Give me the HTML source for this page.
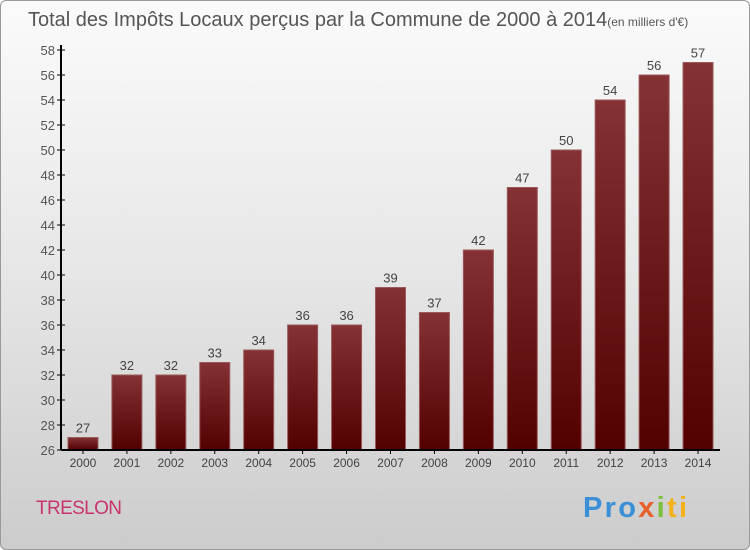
<!DOCTYPE html>
<html><head><meta charset="utf-8"><style>
body{margin:0;width:750px;height:550px;overflow:hidden;font-family:"Liberation Sans",sans-serif}
#bg{position:absolute;left:0;top:0;width:748px;height:548px;border:1px solid #999;border-radius:6px;background:linear-gradient(#fbfbfb,#e6e6e6 50%,#cccccc)}
</style></head><body>
<div id="bg"></div>
<svg id="c" width="750" height="550" style="position:absolute;left:0;top:0">
<defs><linearGradient id="g" x1="0" y1="0" x2="0" y2="1"><stop offset="0" stop-color="#843235"/><stop offset="1" stop-color="#520000"/></linearGradient></defs>
<text x="28" y="26" font-size="20" fill="#555">Total des Impôts Locaux perçus par la Commune de 2000 à 2014<tspan font-size="12">(en milliers d'€)</tspan></text>
<text x="36" y="514" font-size="19" fill="#c8346e" textLength="86">TRESLON</text>
<text x="583" y="517" font-size="29" font-weight="bold" textLength="104"><tspan fill="#3a8fd6">Pro</tspan><tspan fill="#e8602a">x</tspan><tspan fill="#7bbf3a">i</tspan><tspan fill="#f2b21a">ti</tspan></text>
<g id="plot"></g>
</svg>
<script>
const years=["2000","2001","2002","2003","2004","2005","2006","2007","2008","2009","2010","2011","2012","2013","2014"];
const values=[27,32,32,33,34,36,36,39,37,42,47,50,54,56,57];
const yTicks=[26,28,30,32,34,36,38,40,42,44,46,48,50,52,54,56,58];
const NS="http://www.w3.org/2000/svg";
const p=document.getElementById('plot');
const x0=61,x1=720,yTop=50,yBot=450,vmin=26,vmax=58;
const sx=i=>x0+(x1-x0)/years.length*(i+0.5);
const sy=v=>yBot-(v-vmin)/(vmax-vmin)*(yBot-yTop);
function mk(t,a){const e=document.createElementNS(NS,t);for(const k in a)e.setAttribute(k,a[k]);p.appendChild(e);return e;}
yTicks.forEach(v=>{
 const l=mk('line',{x1:x0-4,x2:x0+4,y1:sy(v),y2:sy(v),stroke:'#000'});
 
 
 const t=mk('text',{x:x0-6,y:sy(v)+5,'text-anchor':'end','font-size':13,fill:'#555'});t.textContent=v;
 
 
});
values.forEach((v,i)=>{
 const cx=sx(i);
 const r=mk('rect',{x:cx-15,y:sy(v),width:30,height:yBot-sy(v),fill:'url(#g)',stroke:'#9a5a5c','stroke-width':1});
 
 
 const t=mk('text',{x:cx,y:sy(v)-5,'text-anchor':'middle','font-size':13,fill:'#444'});t.textContent=v;
 
 
 const tk=mk('line',{x1:cx,x2:cx,y1:yBot,y2:yBot+4,stroke:'#000'});
 
 
 const xl=mk('text',{x:cx,y:yBot+17,'text-anchor':'middle','font-size':12,fill:'#444'});xl.textContent=years[i];
 
 
});
const ya=mk('line',{x1:x0,x2:x0,y1:yTop-5,y2:yBot,stroke:'#000','stroke-width':2});


const xa=mk('line',{x1:x0,x2:x1,y1:yBot,y2:yBot,stroke:'#000','stroke-width':2});


</script>
</body></html>
